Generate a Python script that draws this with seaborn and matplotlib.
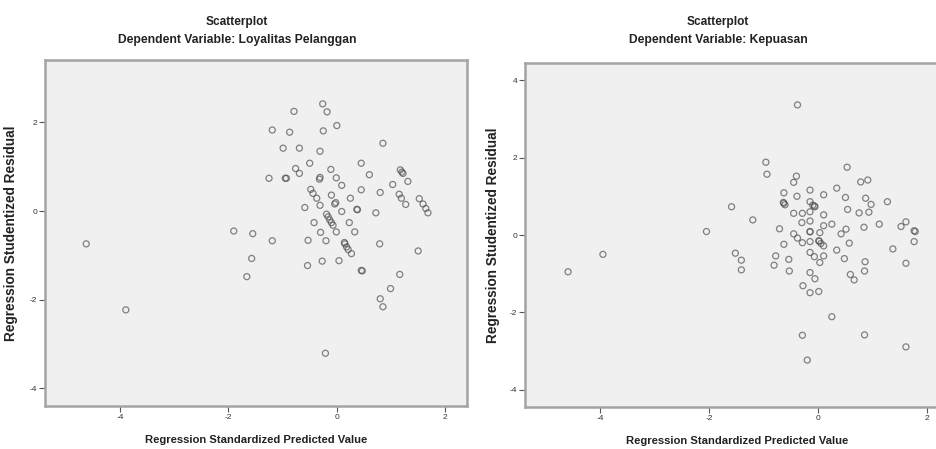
import matplotlib
matplotlib.use("Agg")
import matplotlib.pyplot as plt
import seaborn as sns
import pandas as pd

# ---- data: Loyalitas Pelanggan ----
loy_pred = [-0.26, -0.18, -0.79, -1.19, -0.87, -0.25, 0.00, 0.85, -0.99, -0.69,
            -0.31, -0.50, 0.45, -0.76, -0.69, -0.11, -1.25, -0.95, -0.31, -0.32,
            -0.01, 0.09, 0.60, 1.17, 1.22, 1.31, 1.03, 0.45, 0.80, 0.25,
            -0.48, -0.44, -0.37, -0.31, -0.59, -0.10, -0.02, 0.09, 0.37, 0.72,
            1.15, 1.19, 1.27, 1.52, 1.59, 1.64, 1.68, -0.19, -0.13, -0.07,
            -0.01, -0.42, -0.30, -0.20, 0.23, 0.33, 0.14, 0.18, 0.27, -0.53,
            -0.54, -0.27, 0.04, 0.45, 0.79, 1.50, 1.16, 0.99, 0.80, 0.85,
            -0.21, -1.90, -1.55, -1.19, -1.57, -1.66, -4.62, -3.89, 0.15, 0.21,
            -0.16, -0.10, 0.47, -0.93, 0.38, 1.20, -0.04]
loy_resid = [2.42, 2.24, 2.25, 1.83, 1.78, 1.81, 1.93, 1.53, 1.42, 1.42,
             1.35, 1.08, 1.08, 0.96, 0.85, 0.94, 0.74, 0.74, 0.76, 0.72,
             0.75, 0.58, 0.82, 0.93, 0.85, 0.67, 0.60, 0.48, 0.42, 0.29,
             0.49, 0.40, 0.29, 0.13, 0.08, 0.36, 0.19, -0.01, 0.04, -0.04,
             0.38, 0.29, 0.15, 0.28, 0.16, 0.06, -0.04, -0.07, -0.20, -0.32,
             -0.47, -0.26, -0.48, -0.67, -0.26, -0.47, -0.71, -0.81, -0.96, -0.66,
             -1.23, -1.13, -1.12, -1.34, -0.74, -0.90, -1.43, -1.75, -1.98, -2.16,
             -3.21, -0.45, -0.51, -0.67, -1.07, -1.48, -0.74, -2.23, -0.74, -0.87,
             -0.13, -0.26, -1.35, 0.74, 0.03, 0.88, 0.16]

# ---- data: Kepuasan ----
kep_pred = [-0.38, -0.96, -0.94, 0.53, -0.40, -0.45, 0.78, 0.91, -0.63, -0.39,
            -0.15, 0.10, 0.34, 0.50, 0.87, 0.97, 1.27, -0.63, -0.61, -0.15,
            -0.07, -0.10, 0.54, 0.75, 0.93, -0.45, -0.29, -0.15, 0.10, -1.59,
            -1.20, -2.05, -0.71, -0.30, -0.15, 0.10, 0.25, 0.51, 0.42, 0.84,
            1.12, 1.52, 1.61, 1.76, 1.76, -0.45, -0.38, -0.29, -0.15, -0.15,
            0.03, 0.01, 0.05, 0.10, 0.57, -0.63, 0.34, 1.37, -0.78, -0.81,
            -0.54, -0.53, -0.15, -0.07, 0.03, 0.10, 0.48, 0.86, 1.61, -1.52,
            -1.41, -1.41, -0.15, -0.06, 0.59, 0.66, 0.85, -0.28, -0.15, 0.01,
            0.25, -0.29, 0.85, 1.61, -0.20, -4.59, -3.95, -0.64, -0.06, 0.02,
            -0.15, 1.78]
kep_resid = [3.36, 1.88, 1.57, 1.75, 1.52, 1.36, 1.37, 1.42, 1.09, 1.00,
             1.16, 1.04, 1.21, 0.97, 0.95, 0.79, 0.86, 0.82, 0.78, 0.86,
             0.75, 0.77, 0.66, 0.57, 0.59, 0.56, 0.56, 0.60, 0.52, 0.73,
             0.39, 0.09, 0.16, 0.32, 0.36, 0.24, 0.28, 0.15, 0.03, 0.20,
             0.28, 0.22, 0.34, 0.11, -0.17, 0.03, -0.08, -0.20, 0.08, -0.17,
             0.06, -0.15, -0.22, -0.28, -0.21, -0.24, -0.39, -0.36, -0.54, -0.78,
             -0.63, -0.93, -0.45, -0.56, -0.71, -0.54, -0.61, -0.69, -0.73, -0.47,
             -0.65, -0.90, -0.97, -1.13, -1.02, -1.16, -0.93, -1.31, -1.49, -1.46,
             -2.11, -2.59, -2.58, -2.89, -3.23, -0.95, -0.50, 0.84, 0.73, -0.16,
             0.09, 0.09]

x_ticks = [-4, -2, 0, 2]
left_yticks = [-4, -2, 0, 2]
right_yticks = [-4, -2, 0, 2, 4]

panels = [
    ("Loyalitas Pelanggan", loy_pred, loy_resid, left_yticks, (-4.40, 3.41)),
    ("Kepuasan", kep_pred, kep_resid, right_yticks, (-4.45, 4.45)),
]

sns.set_style("white")
plt.rcParams["font.family"] = ["Liberation Sans", "DejaVu Sans"]

W, H = 936, 449
fig = plt.figure(figsize=(W / 100, H / 100), dpi=100)

# axes boxes in pixel coords: (left, top, right, bottom)
boxes = [(45, 60, 467, 406), (525, 62.7, 949, 407.3)]
title_cx = [237, 718]
ylab_x = [18, 500]

for (name, xs, ys, yt, ylim), (l, t, r, b), tcx, ylx in zip(panels, boxes, title_cx, ylab_x):
    ax = fig.add_axes([l / W, 1 - b / H, (r - l) / W, (b - t) / H])
    df = pd.DataFrame({"pred": xs, "resid": ys})
    sns.scatterplot(data=df, x="pred", y="resid", ax=ax, marker="o",
                    s=19, facecolors="none", edgecolor="#505050",
                    linewidth=0.9, alpha=0.7, legend=False)
    ax.set_facecolor("#f0f0f0")
    ax.set_xlim(-5.38, 2.40)
    ax.set_ylim(*ylim)
    ax.set_xticks(x_ticks)
    ax.set_yticks(yt)
    ax.set_xticklabels([str(v) for v in x_ticks], fontsize=6, color="#333333")
    ax.set_yticklabels([str(v) for v in yt], fontsize=6, color="#333333")
    ax.tick_params(axis="both", direction="out", length=4, width=0.8, color="#555555", pad=1.5)
    ax.tick_params(left=True, bottom=True)
    for sp in ax.spines.values():
        sp.set_color("#a4a4a4")
        sp.set_linewidth(1.8)
    ax.set_xlabel("Regression Standardized Predicted Value", fontsize=8.1,
                  fontweight="bold", labelpad=10, color="#222222")
    ax.set_ylabel("Regression Studentized Residual", fontsize=9.8,
                  fontweight="bold", color="#222222")
    ax.yaxis.set_label_coords((ylx - l) / (r - l), 0.5)
    fig.text(tcx / W, 1 - 22 / H, "Scatterplot", ha="center", va="center",
             fontsize=8.6, fontweight="bold", color="#222222")
    fig.text(tcx / W, 1 - 40 / H, "Dependent Variable: " + name, ha="center",
             va="center", fontsize=8.7, fontweight="bold", color="#222222")

fig.savefig("out.png", dpi=100, facecolor="white")
